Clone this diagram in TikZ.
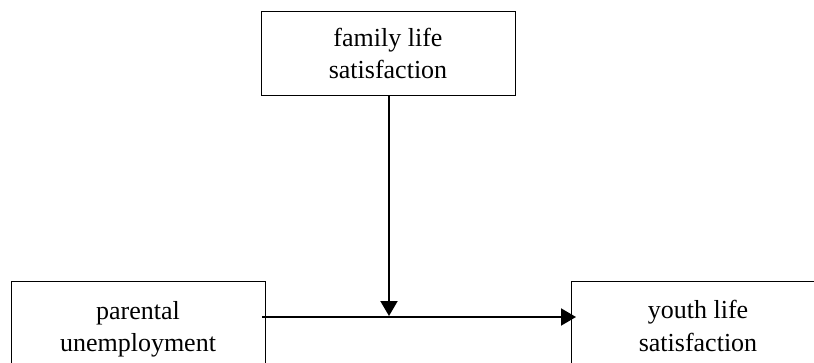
\documentclass[tikz,border=0pt]{standalone}
\usepackage{fontspec}
\setmainfont{Liberation Serif}
\usetikzlibrary{arrows.meta}
\begin{document}
\begin{tikzpicture}[x=1pt,y=-1pt,
  box/.style={draw=black,line width=1pt,minimum width=254pt,minimum height=84pt,inner sep=0pt,outer sep=0pt},
  txt/.style={font=\fontsize{26pt}{32pt}\selectfont,inner sep=0pt,anchor=base},
  arr/.style={line width=2pt,-{Triangle[length=15pt,width=17pt]}}]
\useasboundingbox (0,0) rectangle (814,362);
% boxes
\node[box] (fam) at (388,53) {};
\node[box] (par) at (138,323) {};
\node[box] (you) at (698,323) {};
% texts
\node[txt] (famA) at (388,46) {family life};
\node[txt] (famB) at (388,78) {satisfaction};
\node[txt] (parA) at (138,319) {parental};
\node[txt] (parB) at (138,351) {unemployment};
\node[txt] (youA) at (698,318) {youth life};
\node[txt] (youB) at (698,351) {satisfaction};
% connectors
\coordinate (hs) at (262,317);
\coordinate (he) at (576,317);
\coordinate (vj) at (389,316);
\draw[arr] (hs) -- (he);
\draw[arr] (fam.south -| vj) -- (vj);
\end{tikzpicture}
\end{document}
